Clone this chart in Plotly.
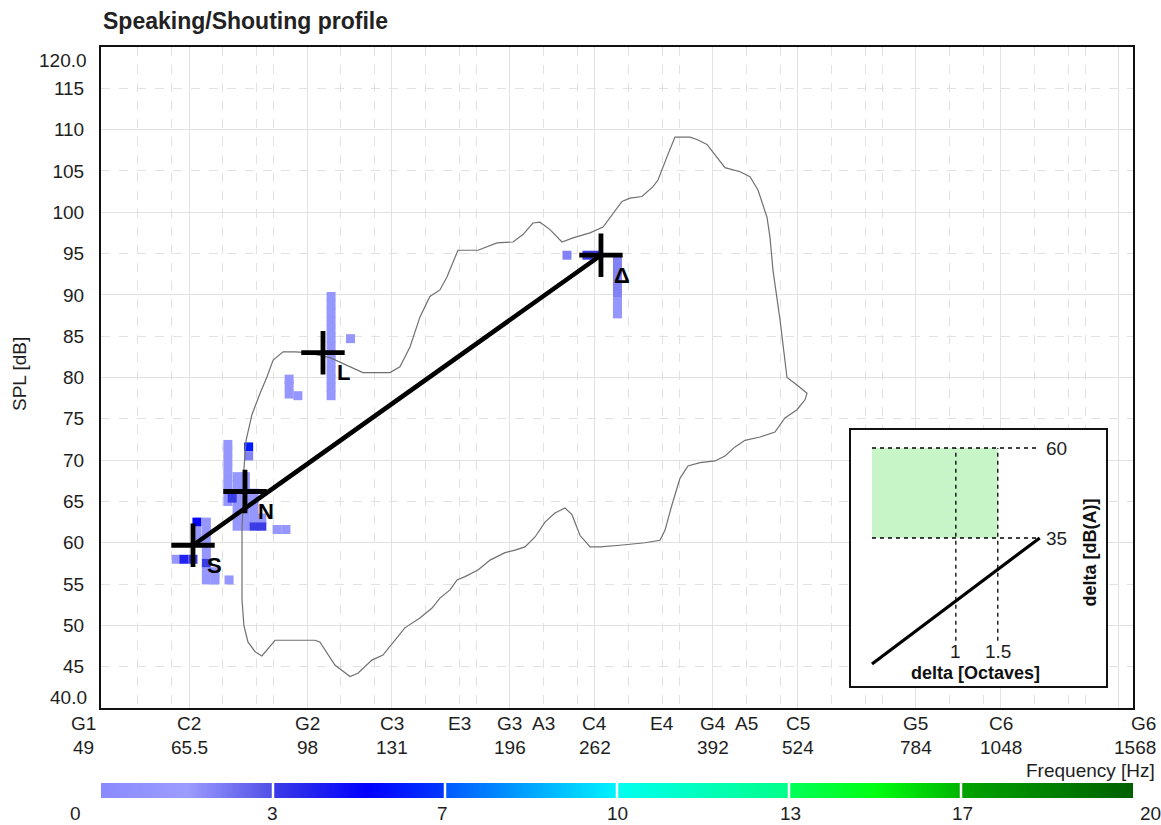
import numpy as np
import plotly.graph_objects as go

# ---------------- data ----------------
# voice range profile outline (frequency in Hz, SPL in dB)
contour_hz = [82.1, 80.1, 79.0, 78.5, 78.5, 78.5, 78.8, 79.0, 79.6, 81.2, 83.5, 85.5, 87.3, 90.3, 94.1,
              98.0, 106.0, 112.3, 118.6, 130.1, 134.6, 139.3, 144.1, 149.1, 154.3, 158.1, 164.1, 175.7,
              187.5, 198.0, 204.9, 212.0, 217.1, 224.7, 234.1, 243.0, 257.6, 269.3, 278.6, 287.3, 295.3,
              307.6, 319.4, 324.9, 335.0, 344.3, 362.4, 371.2, 384.0, 397.4, 408.4, 429.9, 444.8, 457.1,
              471.4, 476.2, 481.1, 492.8, 504.7, 522.2, 540.4, 536.7, 522.2, 501.2, 484.4, 460.2, 437.3,
              422.6, 408.4, 394.7, 375.0, 359.9, 350.2, 340.8, 332.7, 327.1, 310.8, 285.3, 266.5, 257.6,
              248.9, 242.2, 236.5, 228.5, 220.9, 213.5, 206.3, 199.4, 192.7, 183.1, 175.7, 168.1, 163.6,
              159.7, 154.3, 150.2, 144.1, 136.9, 132.3, 127.0, 122.3, 116.6, 113.5, 107.8, 102.4, 100.7,
              87.9, 84.0, 82.1]
contour_db = [46.8, 48.0, 50.0, 53.1, 57.9, 61.5, 65.2, 68.8, 72.4, 75.5, 78.1, 80.1, 82.1, 83.1, 83.1,
              83.0, 82.4, 81.5, 80.6, 80.6, 81.3, 83.7, 87.3, 89.8, 90.6, 92.2, 95.4, 95.4,
              96.3, 96.4, 97.3, 98.7, 98.8, 97.9, 96.4, 96.9, 97.5, 98.2, 99.9, 101.3, 101.7,
              101.9, 103.1, 103.9, 106.7, 109.1, 109.1, 108.8, 108.2, 106.7, 105.4, 104.9, 104.3, 102.7,
              99.4, 97.0, 93.0, 87.0, 80.0, 79.1, 78.1, 77.3, 76.1, 75.1, 73.4, 72.8, 72.4,
              71.6, 70.5, 69.9, 69.7, 69.3, 67.8, 64.6, 61.5, 60.3, 60.0, 59.7, 59.5, 59.5,
              60.9, 63.4, 64.2, 63.6, 62.5, 60.7, 59.5, 59.1, 58.8, 57.9, 56.7, 55.9, 55.5,
              54.3, 53.3, 52.1, 50.9, 49.7, 48.2, 46.4, 45.8, 44.2, 43.8, 45.2, 48.0, 48.2,
              48.2, 46.3, 46.8]

# occurrence cells (frequency Hz, SPL dB, count)
cell_hz = [67.3, 67.3, 67.3, 69.5, 69.5, 69.5, 69.5, 69.5, 69.5, 62.7, 64.4, 66.4, 69.5, 71.6, 69.5, 71.6, 75.1,
           74.8, 74.8, 74.8, 74.8, 74.8, 74.8, 74.8, 74.8,
           77.2, 77.2, 77.2, 77.2, 77.2, 77.2, 77.2,
           79.4, 79.4, 79.4, 79.4, 79.4, 79.4, 79.4,
           81.8, 81.8, 81.8, 81.8, 81.8, 84.0, 84.0, 88.5, 91.2, 75.9, 80.3, 80.3,
           106.4, 106.4, 106.4, 106.4, 106.4, 106.4, 106.4, 106.4, 106.4, 106.4, 106.4, 106.4, 106.4,
           92.2, 92.2, 92.2, 95.0, 113.7,
           238.1, 254.9, 262.4, 282.9, 282.9, 282.9, 282.9, 282.9, 282.9, 282.9, 282.9]
cell_db = [62.5, 61.4, 60.5, 62.5, 61.5, 60.5, 59.5, 58.5, 57.5, 58.0, 58.0, 58.0, 56.5, 56.5, 55.5, 55.5, 55.5,
           65.0, 66.0, 67.0, 68.0, 69.0, 70.0, 71.0, 71.9,
           62.0, 63.0, 64.0, 65.0, 66.0, 67.0, 68.0,
           62.0, 63.0, 64.0, 65.0, 66.0, 67.0, 68.0,
           62.0, 63.0, 64.0, 65.0, 66.0, 62.0, 63.0, 61.6, 61.6, 65.4, 71.6, 70.5,
           77.8, 78.8, 79.8, 80.8, 81.8, 82.8, 83.8, 84.8, 85.8, 86.8, 87.8, 88.8, 89.8,
           78.0, 79.0, 79.8, 77.8, 84.7,
           94.8, 94.8, 94.8, 94.1, 93.1, 92.1, 91.1, 90.1, 89.2, 88.2, 87.7]
cell_count = [5, 1, 1, 1, 1, 1, 1, 1, 3, 1, 4, 3, 1, 1, 1, 1, 1,
              1, 1, 1, 1, 1, 1, 1, 1,
              1, 1, 1, 1, 1, 1, 1,
              1, 1, 1, 1, 1, 1, 1,
              3, 1, 1, 1, 1, 3, 1, 1, 1, 3, 6, 2,
              1, 1, 1, 1, 1, 1, 1, 1, 1, 1, 1, 1, 1,
              1, 1, 1, 1, 1,
              2, 3, 3, 2, 2, 2, 2, 2, 1, 1, 1]

# speaking/shouting points
point_names = ["S", "N", "L", "Δ"]
point_hz = [66.4, 79.3, 103.5, 267.4]
point_db = [59.7, 66.2, 83.0, 94.8]

# x axis note labels
note_names = ["G1", "C2", "G2", "C3", "E3", "G3", "A3", "C4", "E4", "G4", "A5", "C5", "G5", "C6", "G6"]
note_hz = [49, 65.5, 98, 131, 164.8, 196, 220, 262, 329.6, 392, 440, 524, 784, 1048, 1568]
note_freq_text = ["49", "65.5", "98", "131", "", "196", "", "262", "", "392", "", "524", "784", "1048", "1568"]

white_keys_hz = [55, 61.7, 73.4, 82.4, 87.3, 110, 123.5, 146.8, 164.8, 174.6, 220, 246.9, 293.7, 329.6,
                 349.2, 440, 493.9, 587.3, 659.3, 698.5, 880, 987.8, 1174.7, 1318.5, 1396.9]
c_g_hz = [65.5, 98, 131, 196, 262, 392, 524, 784, 1048, 1568]

y_ticks = [45, 50, 55, 60, 65, 70, 75, 80, 85, 90, 95, 100, 105, 110, 115]
y_major = [50, 60, 70, 80, 90, 100, 110]

# colour legend boundaries
cb_bounds = [0, 3, 7, 10, 13, 17, 20]

# inset (delta octaves vs delta dB(A))
inset_oct_limits = [1, 1.5]
inset_db_limits = [35, 60]
inset_line_oct = [0, 2]
inset_line_db = [0, 35]

# ---------------- styling ----------------
FONT = "Liberation Sans, Arial, sans-serif"
TXT = "#1e1e1e"
GRID = "#e2e2e2"
FS = 19

colorscale = [
    [0.00, "#8a8aff"], [0.075, "#9c9cff"], [0.15, "#4f4fe6"],
    [0.15, "#3c3ce6"], [0.26, "#0000ff"], [0.35, "#0038ff"],
    [0.35, "#0058ff"], [0.50, "#00f4ff"],
    [0.50, "#00fff0"], [0.65, "#00ff88"],
    [0.65, "#00ff5a"], [0.75, "#00ff10"], [0.85, "#00b400"],
    [0.85, "#00a400"], [1.00, "#006000"],
]

W, H = 1161, 825
ML, MT, MR, MB = 101, 47, 28, 20
PW, PH = W - ML - MR, H - MT - MB


def px_x(px):
    return (px - ML) / PW


def px_y(py):
    return (H - MB - py) / PH


fig = go.Figure()

# cells
fig.add_trace(go.Scatter(
    x=cell_hz, y=cell_db, mode="markers",
    marker=dict(symbol="square", size=9, color=cell_count, colorscale=colorscale,
                cmin=0, cmax=20, line=dict(width=0)),
    hoverinfo="skip", showlegend=False, xaxis="x", yaxis="y"))

# outline
fig.add_trace(go.Scatter(
    x=contour_hz, y=contour_db, mode="lines",
    line=dict(color="#707070", width=1.2),
    hoverinfo="skip", showlegend=False, xaxis="x", yaxis="y"))

# line S -> shout
fig.add_trace(go.Scatter(
    x=[point_hz[0], point_hz[-1]], y=[point_db[0], point_db[-1]], mode="lines",
    line=dict(color="black", width=4.5),
    hoverinfo="skip", showlegend=False, xaxis="x", yaxis="y"))

# crosses
fig.add_trace(go.Scatter(
    x=point_hz, y=point_db, mode="markers",
    marker=dict(symbol="cross-thin", size=31, color="black",
                line=dict(width=4.8, color="black")),
    hoverinfo="skip", showlegend=False, xaxis="x", yaxis="y"))

# ---- inset ----
fig.add_trace(go.Scatter(
    x=[0, inset_oct_limits[1], inset_oct_limits[1], 0, 0],
    y=[inset_db_limits[0], inset_db_limits[0], inset_db_limits[1], inset_db_limits[1], inset_db_limits[0]],
    mode="lines", fill="toself", fillcolor="#c8f5c8", line=dict(width=0),
    hoverinfo="skip", showlegend=False, xaxis="x2", yaxis="y2"))
for dbv in inset_db_limits:
    fig.add_trace(go.Scatter(
        x=[0, inset_line_oct[1]], y=[dbv, dbv], mode="lines",
        line=dict(color="black", width=1.3, dash="4px,4px"),
        hoverinfo="skip", showlegend=False, xaxis="x2", yaxis="y2"))
for ov in inset_oct_limits:
    fig.add_trace(go.Scatter(
        x=[ov, ov], y=[6.5, inset_db_limits[1]], mode="lines",
        line=dict(color="black", width=1.3, dash="4px,4px"),
        hoverinfo="skip", showlegend=False, xaxis="x2", yaxis="y2"))
fig.add_trace(go.Scatter(
    x=inset_line_oct, y=inset_line_db, mode="lines",
    line=dict(color="black", width=3.2),
    hoverinfo="skip", showlegend=False, xaxis="x2", yaxis="y2"))

# ---- colour legend bar ----
cb_idx = np.arange(len(cb_bounds))
cb_x = (np.arange(600) + 0.5) / 100.0
cb_z = np.interp(cb_x, cb_idx, cb_bounds)
fig.add_trace(go.Heatmap(
    x=cb_x, y=[0], z=[cb_z], colorscale=colorscale, zmin=0, zmax=20,
    showscale=False, hoverinfo="skip", xaxis="x3", yaxis="y3"))

# ---------------- layout ----------------
main_y0 = px_y(708)
fig.update_layout(
    width=W, height=H,
    margin=dict(l=ML, r=MR, t=MT, b=MB),
    paper_bgcolor="white", plot_bgcolor="white",
    font=dict(family=FONT, size=FS, color=TXT),
    showlegend=False,
    xaxis=dict(
        type="log", range=[np.log10(48.5), np.log10(1645)], domain=[0, 1], anchor="y",
        showline=True, mirror=True, linecolor="#111", linewidth=2,
        tickmode="array", tickvals=white_keys_hz, showticklabels=False, ticks="",
        showgrid=True, gridcolor=GRID, gridwidth=1, griddash="dash", zeroline=False,
        minor=dict(tickmode="array", tickvals=c_g_hz, showgrid=True, gridcolor=GRID,
                   gridwidth=1, griddash="solid", ticks=""),
    ),
    yaxis=dict(
        range=[40, 120], domain=[main_y0, 1], anchor="x",
        showline=True, mirror=True, linecolor="#111", linewidth=2,
        tickmode="array", tickvals=y_ticks, ticktext=[str(v) for v in y_ticks], ticks="",
        ticklabelstandoff=11, tickfont=dict(size=FS, color=TXT),
        showgrid=True, gridcolor=GRID, gridwidth=1, griddash="dash", zeroline=False,
        minor=dict(tickmode="array", tickvals=y_major, showgrid=True, gridcolor=GRID,
                   gridwidth=1, griddash="solid", ticks=""),
    ),
    xaxis2=dict(
        domain=[px_x(851), px_x(1106)], anchor="y2", range=[-0.25, 2.79],
        showline=True, mirror=True, linecolor="#111", linewidth=1.5,
        showgrid=False, zeroline=False, showticklabels=False, ticks="",
    ),
    yaxis2=dict(
        domain=[px_y(686), px_y(430)], anchor="x2", range=[-6.1, 65],
        showline=True, mirror=True, linecolor="#111", linewidth=1.5,
        showgrid=False, zeroline=False, showticklabels=False, ticks="",
    ),
    xaxis3=dict(domain=[0, 1], anchor="y3", range=[0, 6], visible=False),
    yaxis3=dict(domain=[px_y(798), px_y(783)], anchor="x3", range=[-0.5, 0.5], visible=False),
)

shapes = [dict(type="rect", xref="x2 domain", yref="y2 domain", x0=0, x1=1, y0=0, y1=1,
               fillcolor="white", line=dict(width=0), layer="below")]
for i in range(1, len(cb_bounds) - 1):
    shapes.append(dict(type="line", xref="x3", yref="y3 domain", x0=i, x1=i, y0=0, y1=1,
                       line=dict(color="white", width=2.5), layer="above"))
fig.update_layout(shapes=shapes)

ann = []
# title
ann.append(dict(text="<b>Speaking/Shouting profile</b>", xref="paper", yref="paper",
                x=px_x(101), y=px_y(21), xanchor="left", yanchor="middle", showarrow=False,
                font=dict(size=23, color="#222")))
# y title
ann.append(dict(text="SPL [dB]", xref="paper", yref="paper", x=px_x(19), y=px_y(374),
                textangle=-90, showarrow=False, xanchor="center", yanchor="middle",
                font=dict(size=FS, color=TXT)))
# y end labels
ann.append(dict(text="120.0", xref="paper", yref="y", x=0, y=120, xanchor="right", yanchor="middle",
                xshift=-12, yshift=-13, showarrow=False, font=dict(size=FS, color=TXT)))
ann.append(dict(text="40.0", xref="paper", yref="y", x=0, y=40, xanchor="right", yanchor="middle",
                xshift=-12, yshift=11, showarrow=False, font=dict(size=FS, color=TXT)))
# x note labels
for k, (nm, hz, ft) in enumerate(zip(note_names, note_hz, note_freq_text)):
    if k == 0:
        pos = dict(xref="paper", x=px_x(83), xanchor="center")
    elif k == len(note_names) - 1:
        pos = dict(xref="paper", x=px_x(1158), xanchor="right")
    else:
        pos = dict(xref="x", x=np.log10(hz), xanchor="center")
    ann.append(dict(text=nm, yref="paper", y=px_y(723), yanchor="middle", showarrow=False,
                    font=dict(size=FS, color=TXT), **pos))
    if ft:
        ann.append(dict(text=ft, yref="paper", y=px_y(747), yanchor="middle", showarrow=False,
                        font=dict(size=FS, color=TXT), **pos))
ann.append(dict(text="Frequency [Hz]", xref="paper", yref="paper", x=px_x(1157), y=px_y(770),
                xanchor="right", yanchor="middle", showarrow=False, font=dict(size=FS, color=TXT)))
# point labels
for nm, hz, db in zip(point_names, point_hz, point_db):
    ann.append(dict(text="<b>" + nm + "</b>", xref="x", yref="y", x=np.log10(hz), y=db,
                    xshift=21, yshift=-20, showarrow=False, xanchor="center", yanchor="middle",
                    font=dict(size=22, color="black")))
# colour legend labels
cb_label_shift = [-26, -1, -3, 0, 1, 1, 17]
for i, (b, sh) in enumerate(zip(cb_bounds, cb_label_shift)):
    ann.append(dict(text=str(b), xref="x3", yref="paper", x=i, y=px_y(814), xshift=sh,
                    xanchor="center", yanchor="middle", showarrow=False,
                    font=dict(size=FS, color=TXT)))
# inset labels
for dbv in inset_db_limits:
    ann.append(dict(text=str(dbv), xref="x2", yref="y2", x=2.05, y=dbv, xanchor="left",
                    yanchor="middle", showarrow=False, font=dict(size=FS, color=TXT)))
for ov in inset_oct_limits:
    ann.append(dict(text=str(ov), xref="x2", yref="y2", x=ov, y=3.6, xanchor="center",
                    yanchor="middle", showarrow=False, font=dict(size=FS, color=TXT)))
ann.append(dict(text="<b>delta [Octaves]</b>", xref="x2", yref="y2", x=1.24, y=-2.4,
                xanchor="center", yanchor="middle", showarrow=False,
                font=dict(size=18, color="#111")))
ann.append(dict(text="<b>delta [dB(A)]</b>", xref="x2", yref="y2", x=2.6, y=31, textangle=-90,
                xanchor="center", yanchor="middle", showarrow=False,
                font=dict(size=18, color="#111")))
fig.update_layout(annotations=ann)

# remove the default page margin so the figure fills the window exactly
fig.write_html("out.html", include_plotlyjs=True, config={"displayModeBar": False},
               post_script="document.body.style.margin='0';document.body.style.overflow='hidden';")
